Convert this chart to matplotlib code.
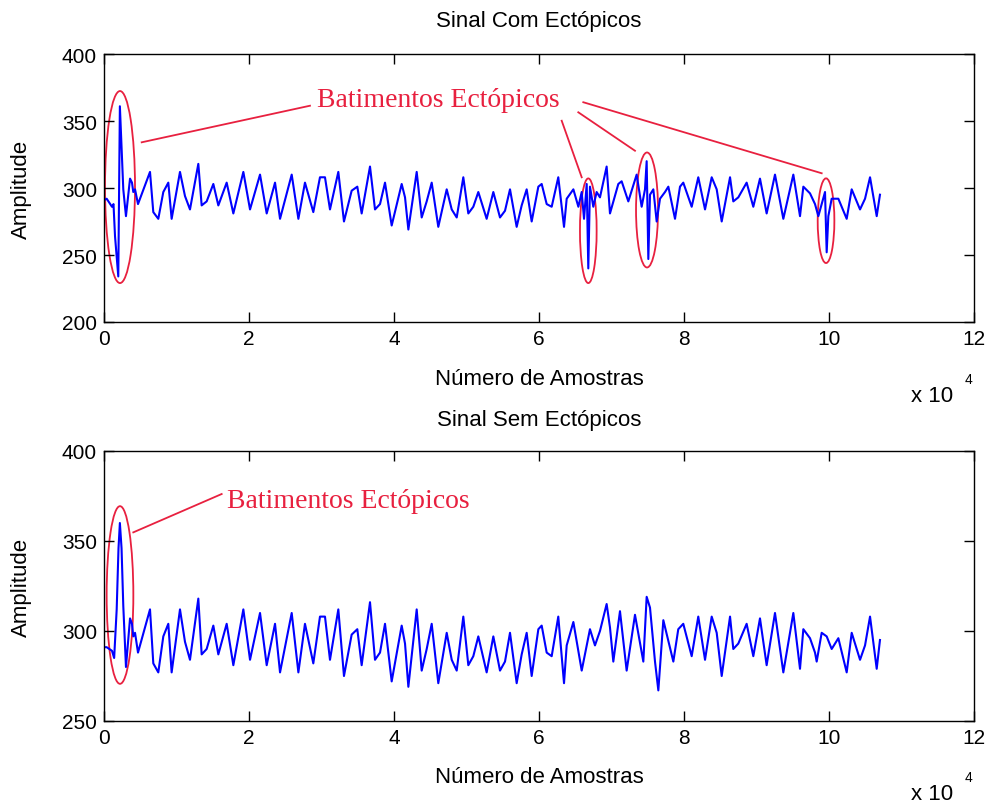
import matplotlib
matplotlib.use("Agg")
import matplotlib.pyplot as plt
from matplotlib.patches import Ellipse

# ---------------- data ----------------
top_s = [0, 370, 1100, 1310, 1520, 1970, 2190, 2420, 2660, 3030,
         3590, 3860, 4040, 4280, 4690, 6345, 6800, 7490, 8180, 8870,
         9330, 10480, 11170, 11860, 13010, 13470, 14160, 15080, 15770, 16920,
         17840, 19220, 20140, 21520, 22440, 23590, 24280, 25890, 26810, 27720,
         28870, 29790, 30480, 31170, 32320, 33100, 34160, 34940, 35540, 36690,
         37380, 38070, 38760, 39680, 41060, 41520, 41980, 43130, 43820, 44510,
         45200, 46110, 47270, 47960, 48650, 49560, 50250, 50940, 51630, 52780,
         53700, 54620, 55310, 56000, 56920, 57610, 58300, 58990, 59910, 60370,
         61060, 61750, 62660, 63450, 63820, 64740, 65430, 65890, 66210, 66580,
         66800, 67030, 67490, 67950, 68410, 69330, 69790, 70940, 71400, 72320,
         73470, 74160, 74620, 74850, 75080, 75310, 75770, 76230, 76690, 77380,
         77840, 78760, 79450, 79900, 81060, 81970, 82900, 83820, 84510, 85200,
         86350, 86800, 87490, 88640, 89560, 90480, 91400, 92550, 93700, 95080,
         96000, 96460, 97380, 98070, 98530, 99450, 99680, 99910, 100370, 101290,
         102440, 103130, 104280, 104970, 105660, 106580, 107030]
top_v = [291, 292, 286, 288, 264, 234, 361, 331, 299, 279,
         307, 304, 297, 299, 288, 312, 282, 277, 297, 304,
         277, 312, 294, 284, 318, 287, 290, 303, 287, 304,
         281, 312, 284, 310, 281, 304, 277, 310, 277, 304,
         282, 308, 308, 284, 312, 275, 298, 301, 281, 316,
         284, 288, 304, 272, 303, 293, 269, 312, 278, 290,
         304, 271, 299, 284, 278, 308, 281, 286, 297, 277,
         297, 278, 283, 299, 271, 287, 299, 275, 301, 303,
         288, 286, 308, 271, 292, 299, 286, 297, 277, 303,
         240, 301, 286, 297, 293, 316, 281, 303, 305, 290,
         310, 286, 299, 320, 247, 295, 299, 275, 292, 297,
         301, 277, 301, 304, 286, 308, 284, 308, 299, 275,
         308, 290, 293, 304, 286, 307, 281, 310, 277, 310,
         279, 301, 296, 288, 279, 297, 252, 279, 292, 292,
         277, 299, 284, 292, 308, 279, 295]

bot_s = [0, 370, 1100, 1400, 1750, 2000, 2190, 2420, 2660, 3030,
         3590, 3860, 4040, 4280, 4690, 6345, 6800, 7490, 8180, 8870,
         9330, 10480, 11170, 11860, 13010, 13470, 14160, 15080, 15770, 16920,
         17840, 19220, 20140, 21520, 22440, 23590, 24280, 25890, 26810, 27720,
         28870, 29790, 30480, 31170, 32320, 33100, 34160, 34940, 35540, 36690,
         37380, 38070, 38760, 39680, 41060, 41520, 41980, 43130, 43820, 44510,
         45200, 46110, 47270, 47960, 48650, 49560, 50250, 50940, 51630, 52780,
         53700, 54620, 55310, 56000, 56920, 57610, 58300, 58990, 59910, 60370,
         61060, 61750, 62660, 63450, 63820, 64740, 65890, 67030, 67720, 68410,
         69330, 69790, 70250, 71170, 72090, 73240, 74390, 74850, 75310, 76000,
         76460, 77150, 78530, 79210, 79900, 81060, 81970, 82900, 83820, 84510,
         85200, 86350, 86800, 87490, 88640, 89560, 90480, 91400, 92550, 93700,
         95080, 96000, 96460, 97380, 98070, 98300, 98990, 99680, 100370, 101290,
         102440, 103130, 104280, 104970, 105660, 106580, 107030]
bot_v = [291, 291, 289, 285, 312, 346, 360, 346, 314, 280,
         307, 304, 297, 299, 288, 312, 282, 277, 297, 304,
         277, 312, 294, 284, 318, 287, 290, 303, 287, 304,
         281, 312, 284, 310, 281, 304, 277, 310, 277, 304,
         282, 308, 308, 284, 312, 275, 298, 301, 281, 316,
         284, 288, 304, 272, 303, 293, 269, 312, 278, 290,
         304, 271, 299, 284, 278, 308, 281, 286, 297, 277,
         297, 278, 283, 299, 271, 287, 299, 275, 301, 303,
         288, 286, 308, 271, 292, 305, 278, 301, 292, 300,
         315, 302, 283, 311, 278, 309, 283, 319, 313, 283,
         267, 306, 283, 301, 304, 286, 308, 284, 308, 299,
         275, 308, 290, 293, 304, 286, 307, 281, 310, 277,
         310, 279, 301, 296, 288, 283, 299, 297, 290, 296,
         277, 299, 284, 292, 308, 279, 295]

x_ticks = [0, 20000, 40000, 60000, 80000, 100000, 120000]
x_tick_labels = ["0", "2", "4", "6", "8", "10", "12"]
top_y_ticks = [200, 250, 300, 350, 400]
bot_y_ticks = [250, 300, 350, 400]

# annotation geometry (data units: samples, amplitude)
top_ellipses = [(2207, 300.7, 4138, 143.3), (66800, 268.1, 2300, 78.1),
                (74900, 283.6, 3034, 85.8), (99590, 275.6, 2300, 63.2)]
top_lines = [((5200, 28410), (334.1, 361.4)), ((63130, 65890), (350.2, 308.0)),
             ((65420, 73240), (356.5, 327.8)), ((66110, 98990), (364.0, 311.0))]
top_text_pos = (29340, 366.0)
bot_ellipses = [(2207, 320.0, 3680, 98.7)]
bot_lines = [((4040, 16230), (354.8, 376.1))]
bot_text_pos = (16920, 372.5)

# ---------------- style ----------------
SANS = ["Liberation Sans", "DejaVu Sans"]
SERIF = ["Liberation Serif", "DejaVu Serif"]
RED = "#e8203f"
BLUE = "#0000ff"
TICK_FS = 15
LAB_FS = 16
ANN_FS = 20

plt.rcParams["font.family"] = SANS

fig = plt.figure(figsize=(9.88, 8.04), dpi=100)
W, H = 988.0, 804.0
ax1 = fig.add_axes([104 / W, 1 - 323 / H, 870 / W, 268 / H])
ax2 = fig.add_axes([104 / W, 1 - 722 / H, 870 / W, 270 / H])


def style(ax, yticks):
    ax.set_xlim(0, 120000)
    ax.set_ylim(yticks[0], yticks[-1])
    ax.set_xticks(x_ticks)
    ax.set_xticklabels(x_tick_labels)
    ax.set_yticks(yticks)
    ax.tick_params(direction="in", top=True, right=True, length=7, width=1,
                   labelsize=TICK_FS, pad=5, colors="black")
    for sp in ax.spines.values():
        sp.set_linewidth(1.0)


ax1.plot(top_s, top_v, color=BLUE, lw=1.5)
style(ax1, top_y_ticks)
for (cx, cy, w, h) in top_ellipses:
    ax1.add_patch(Ellipse((cx, cy), w, h, fill=False, edgecolor=RED, lw=1.3))
for xs, ys in top_lines:
    ax1.plot(xs, ys, color=RED, lw=1.3)
ax1.text(top_text_pos[0], top_text_pos[1], "Batimentos Ectópicos", color=RED,
         family=SERIF, fontsize=ANN_FS, ha="left", va="center")

ax2.plot(bot_s, bot_v, color=BLUE, lw=1.5)
style(ax2, bot_y_ticks)
for (cx, cy, w, h) in bot_ellipses:
    ax2.add_patch(Ellipse((cx, cy), w, h, fill=False, edgecolor=RED, lw=1.3))
for xs, ys in bot_lines:
    ax2.plot(xs, ys, color=RED, lw=1.3)
ax2.text(bot_text_pos[0], bot_text_pos[1], "Batimentos Ectópicos", color=RED,
         family=SERIF, fontsize=ANN_FS, ha="left", va="center")

# titles / labels
fig.text(539 / W, 1 - 22 / H, "Sinal Com Ectópicos", ha="center", va="center", fontsize=LAB_FS)
fig.text(539 / W, 1 - 421 / H, "Sinal Sem Ectópicos", ha="center", va="center", fontsize=LAB_FS)
fig.text(539 / W, 1 - 380 / H, "Número de Amostras", ha="center", va="center", fontsize=LAB_FS)
fig.text(539 / W, 1 - 778 / H, "Número de Amostras", ha="center", va="center", fontsize=LAB_FS)
fig.text(21 / W, 1 - 189 / H, "Amplitude", ha="center", va="center", rotation=90, fontsize=LAB_FS)
fig.text(21 / W, 1 - 587 / H, "Amplitude", ha="center", va="center", rotation=90, fontsize=LAB_FS)

for yb in (397, 795):
    fig.text(911 / W, 1 - yb / H, "x 10", ha="left", va="center", fontsize=TICK_FS + 1)
    fig.text(965 / W, 1 - (yb - 17) / H, "4", ha="left", va="center", fontsize=10)

fig.savefig("out.png", dpi=100)
